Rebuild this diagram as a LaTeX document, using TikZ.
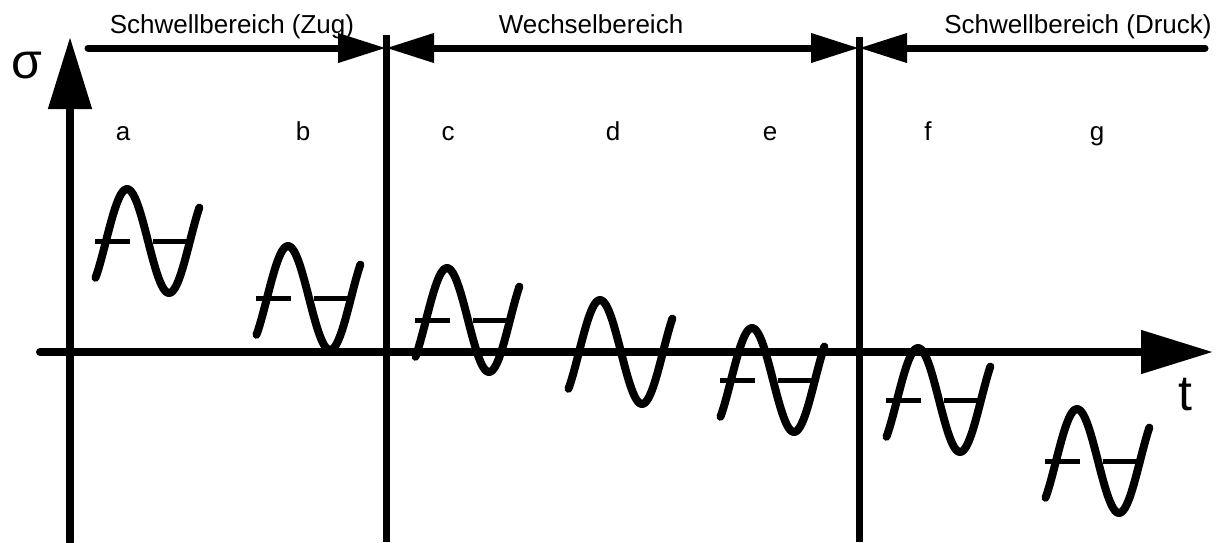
\documentclass[tikz,border=0pt]{standalone}
\usepackage{fontspec}
\setmainfont{Liberation Sans}
\usetikzlibrary{arrows.meta}

\begin{document}
\begin{tikzpicture}[
		x=1pt, y=-1pt,
		>={Triangle[length=48pt,width=28pt]},
		axis/.style={line width=8pt, line cap=round, -{Triangle[length=72pt,width=42pt]}},
		sep/.style={line width=7pt},
		dim/.style={line width=7pt, line cap=round},
		wave/.style={line width=8pt, line cap=round, line join=round},
		bar/.style={line width=5pt},
		lbl/.style={font=\fontsize{26}{30}\selectfont, anchor=base, inner sep=0pt},
		big/.style={font=\fontsize{50}{54}\selectfont, inner sep=0pt}
		]
		
		\useasboundingbox (0,0) rectangle (1232,542);
		
		% --------------------------------------------------
		% Axes
		% --------------------------------------------------
		\coordinate (O) at (70,352);
		\draw[axis] (70,542) -- (70,37);
		\draw[axis] (40,352) -- (1213,352);
		\node[big] (sigma) at (27,66) {σ};
		\node[big] (t) at (1185,395) {t};
		
		% --------------------------------------------------
		% Ranges
		% --------------------------------------------------
		\draw[sep] (386,35) -- (386,542);
		\draw[sep] (859,37) -- (859,542);
		
		\coordinate (D0) at (88,48);
		\coordinate (D1) at (386,48);
		\coordinate (D2) at (859,48);
		\coordinate (D3) at (1205,48);
		\draw[dim,->] (D0) -- (D1);
		\draw[dim,<->] (D1) -- (D2);
		\draw[dim,<-] (D2) -- (D3);
		
		\node[lbl] (zug) at (232,33) {Schwellbereich (Zug)};
		\node[lbl] (wechsel) at (591,33) {Wechselbereich};
		\node[lbl] (druck) at (1078,33) {Schwellbereich (Druck)};
		
		% --------------------------------------------------
		% Load cases a--g
		% --------------------------------------------------
		\foreach \n/\lx/\px/\m in {a/123/127/241, b/303/288/298, c/448/447/320,
			d/613/600/352, e/770/752/380, f/928/918/400, g/1097/1077/461}
		{
			\node[lbl] (l\n) at (\lx,140) {\n};
			\draw[wave] plot[domain=-45:400, samples=70, smooth]
			({\px+(\x-90)/360*84}, {\m-52*sin(\x)});
		}
		
		% mean stress lines (none for d)
		\foreach \px/\m in {127/241, 288/298, 447/320, 752/380, 918/400, 1077/461}
		{
			\draw[bar] (\px-32,\m) -- (\px+3,\m);
			\draw[bar] (\px+26,\m) -- (\px+60,\m);
		}
		
	\end{tikzpicture}
\end{document}
